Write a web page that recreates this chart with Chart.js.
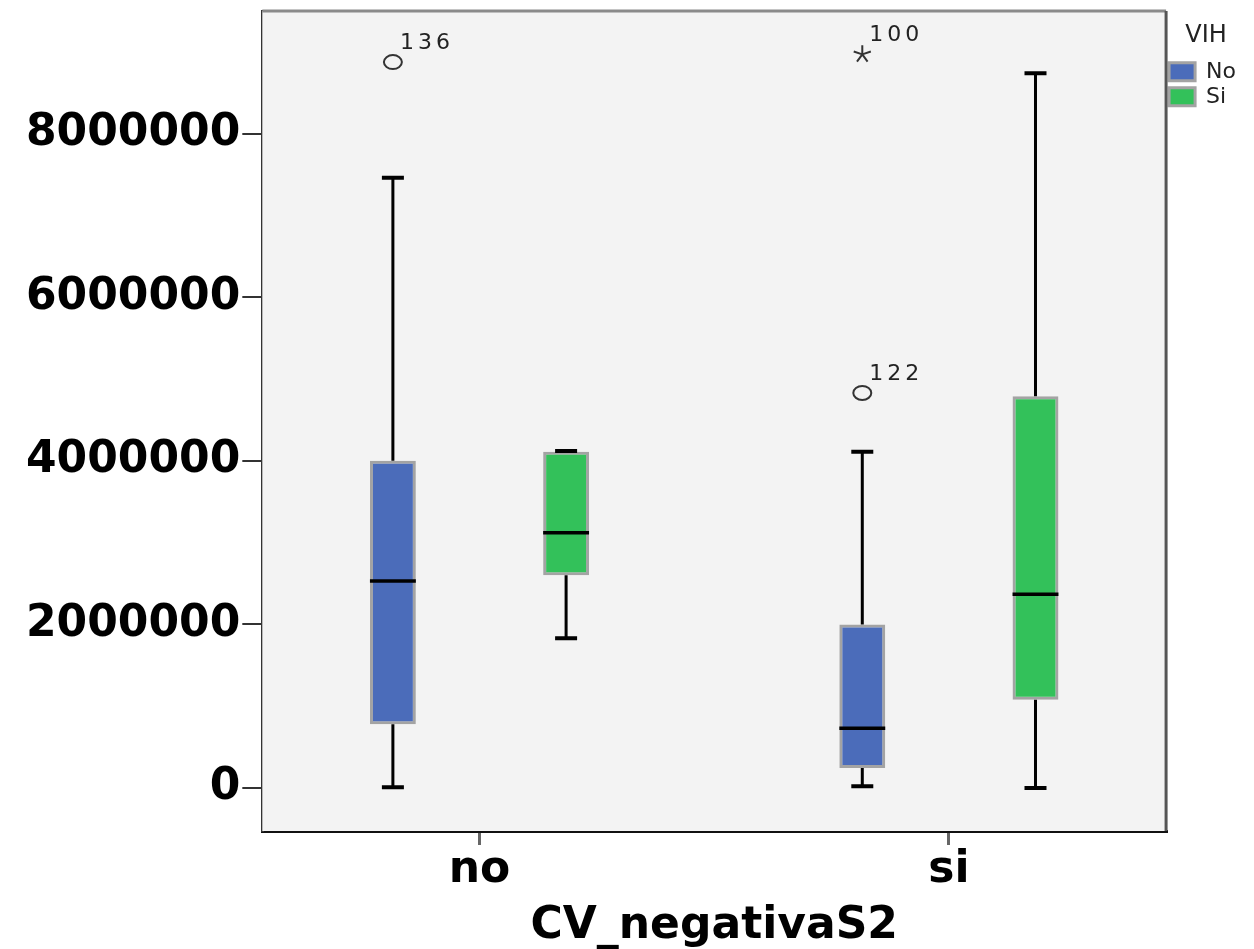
<!DOCTYPE html>
<html>
<head>
<meta charset="utf-8">
<title>CV_negativaS2 por VIH</title>
<script src="https://cdn.jsdelivr.net/npm/chart.js@4/dist/chart.umd.min.js"></script>
<style>
    html, body { margin: 0; padding: 0; background: #ffffff; }
    #wrap { width: 1254px; height: 949px; position: relative; }
</style>
</head>
<body>
<div id="wrap"><canvas id="boxChart"></canvas></div>
<script>
// Categories on the x axis and the two groups (legend)
const categories = ['no', 'si'];
const groupNames = ['No', 'Si'];
const yTicks = [0, 2000000, 4000000, 6000000, 8000000];

// Box statistics per category, group "No"
const noMin = [10000, 20000];
const noQ1 = [780000, 245000];
const noMedian = [2530000, 730000];
const noQ3 = [4000000, 2000000];
const noMax = [7460000, 4110000];

// Box statistics per category, group "Si"
const siMin = [1830000, 0];
const siQ1 = [2600000, 1080000];
const siMedian = [3120000, 2370000];
const siQ3 = [4110000, 4790000];
const siMax = [4120000, 8740000];

// Outliers (case numbers as labels)
const outlierValues = [8875000, 4830000, 8970000];
const outlierLabels = ['136', '122', '100'];
const outlierCategory = [0, 1, 1];
const outlierGroup = [0, 0, 0];
const outlierStyle = ['circle', 'circle', 'star'];

const stats = [
    { min: noMin, q1: noQ1, median: noMedian, q3: noQ3, max: noMax },
    { min: siMin, q1: siQ1, median: siMedian, q3: siQ3, max: siMax }
];
const groupColors = ['#4b6cba', '#33c15a'];

// Draws the plot background and frame, then whiskers, medians and outliers
const boxplotPlugin = {
    id: 'boxplotParts',
    beforeDatasetsDraw(chart) {
        const { ctx, chartArea } = chart;
        ctx.save();
        ctx.fillStyle = '#f3f3f3';
        ctx.fillRect(chartArea.left, chartArea.top, chartArea.right - chartArea.left, chartArea.bottom - chartArea.top);
        ctx.strokeStyle = '#8a8a8a';
        ctx.lineWidth = 3;
        ctx.beginPath();
        ctx.moveTo(chartArea.left, chartArea.top);
        ctx.lineTo(chartArea.right, chartArea.top);
        ctx.stroke();
        ctx.strokeStyle = '#555555';
        ctx.beginPath();
        ctx.moveTo(chartArea.right, chartArea.top);
        ctx.lineTo(chartArea.right, chartArea.bottom);
        ctx.stroke();
        ctx.restore();
    },
    afterDatasetsDraw(chart) {
        const { ctx } = chart;
        const yScale = chart.scales.y;
        ctx.save();
        stats.forEach((s, d) => {
            const meta = chart.getDatasetMeta(d);
            meta.data.forEach((bar, i) => {
                const x = bar.x;
                const half = bar.width / 2;
                const yMin = yScale.getPixelForValue(s.min[i]);
                const yQ1 = yScale.getPixelForValue(s.q1[i]);
                const yQ3 = yScale.getPixelForValue(s.q3[i]);
                const yMax = yScale.getPixelForValue(s.max[i]);
                const yMed = yScale.getPixelForValue(s.median[i]);

                // whiskers
                ctx.strokeStyle = '#000000';
                ctx.lineWidth = 3;
                ctx.beginPath();
                ctx.moveTo(x, yQ3);
                ctx.lineTo(x, yMax);
                ctx.moveTo(x, yQ1);
                ctx.lineTo(x, yMin);
                ctx.stroke();

                // caps
                ctx.lineWidth = 4;
                ctx.beginPath();
                ctx.moveTo(x - 11, yMax);
                ctx.lineTo(x + 11, yMax);
                ctx.moveTo(x - 11, yMin);
                ctx.lineTo(x + 11, yMin);
                ctx.stroke();

                // median
                ctx.lineWidth = 3.5;
                ctx.beginPath();
                ctx.moveTo(x - half, yMed);
                ctx.lineTo(x + half, yMed);
                ctx.stroke();
            });
        });

        // outliers
        outlierValues.forEach((v, k) => {
            const bar = chart.getDatasetMeta(outlierGroup[k]).data[outlierCategory[k]];
            const x = bar.x;
            const y = yScale.getPixelForValue(v);
            ctx.strokeStyle = '#333333';
            ctx.lineWidth = 2;
            ctx.beginPath();
            if (outlierStyle[k] === 'circle') {
                ctx.ellipse(x, y, 9, 7, 0, 0, Math.PI * 2);
            } else {
                for (let a = 0; a < 5; a++) {
                    const ang = -Math.PI / 2 + a * 2 * Math.PI / 5;
                    ctx.moveTo(x, y);
                    ctx.lineTo(x + Math.cos(ang) * 9, y + Math.sin(ang) * 9);
                }
            }
            ctx.stroke();
            ctx.fillStyle = '#222222';
            ctx.font = '22px "DejaVu Sans"';
            ctx.letterSpacing = '4px';
            ctx.textAlign = 'left';
            ctx.textBaseline = 'alphabetic';
            ctx.fillText(outlierLabels[k], x + 7, y - 13);
        });
        ctx.restore();
    }
};

const ctx = document.getElementById('boxChart').getContext('2d');
const chart = new Chart(ctx, {
    type: 'bar',
    data: {
        datasets: groupNames.map((name, d) => ({
            label: name,
            data: categories.map((c, i) => ({ x: i, y: [stats[d].q1[i], stats[d].q3[i]] })),
            backgroundColor: groupColors[d],
            borderColor: '#a3a3a3',
            borderWidth: 3,
            borderSkipped: false,
            categoryPercentage: 0.738,
            barPercentage: 0.265
        }))
    },
    options: {
        responsive: true,
        maintainAspectRatio: false,
        animation: false,
        layout: { padding: { top: 11, left: 24, right: 8, bottom: 0 } },
        scales: {
            x: {
                type: 'linear',
                min: -0.4627,
                max: 1.4627,
                offset: false,
                afterBuildTicks: (scale) => {
                    scale.ticks = categories.map((c, i) => ({ value: i }));
                },
                ticks: {
                    callback: (value) => categories[value],
                    font: { family: 'DejaVu Sans', size: 44, weight: 'bold', lineHeight: 1 },
                    color: '#000000',
                    padding: 4,
                    maxRotation: 0,
                    autoSkip: false
                },
                grid: { offset: false, drawOnChartArea: false, drawTicks: true, tickLength: 14, color: '#666666', lineWidth: 3 },
                border: { display: true, color: '#111111', width: 3 },
                title: {
                    display: true,
                    text: 'CV_negativaS2',
                    font: { family: 'DejaVu Sans', size: 44, weight: 'bold', lineHeight: 1 },
                    color: '#000000',
                    padding: { top: 8, bottom: 0 }
                }
            },
            y: {
                min: -526000,
                max: 9500000,
                afterBuildTicks: (scale) => {
                    scale.ticks = yTicks.map(v => ({ value: v }));
                },
                ticks: {
                    callback: (value) => String(value),
                    font: { family: 'DejaVu Sans', size: 44, weight: 'bold', lineHeight: 0.4 },
                    color: '#000000',
                    padding: 2
                },
                grid: { drawOnChartArea: false, drawTicks: true, tickLength: 20, color: '#333333', lineWidth: 2 },
                border: { display: true, color: '#333333', width: 3 }
            }
        },
        plugins: {
            legend: {
                position: 'right',
                align: 'start',
                title: {
                    display: true,
                    text: 'VIH',
                    color: '#222222',
                    font: { family: 'DejaVu Sans', size: 24 },
                    padding: { top: 13, bottom: 5 }
                },
                labels: {
                    boxWidth: 26,
                    boxHeight: 18,
                    padding: 3,
                    color: '#222222',
                    font: { family: 'DejaVu Sans', size: 22, lineHeight: 1 }
                }
            },
            tooltip: { enabled: false }
        }
    },
    plugins: [boxplotPlugin]
});
</script>
</body>
</html>
